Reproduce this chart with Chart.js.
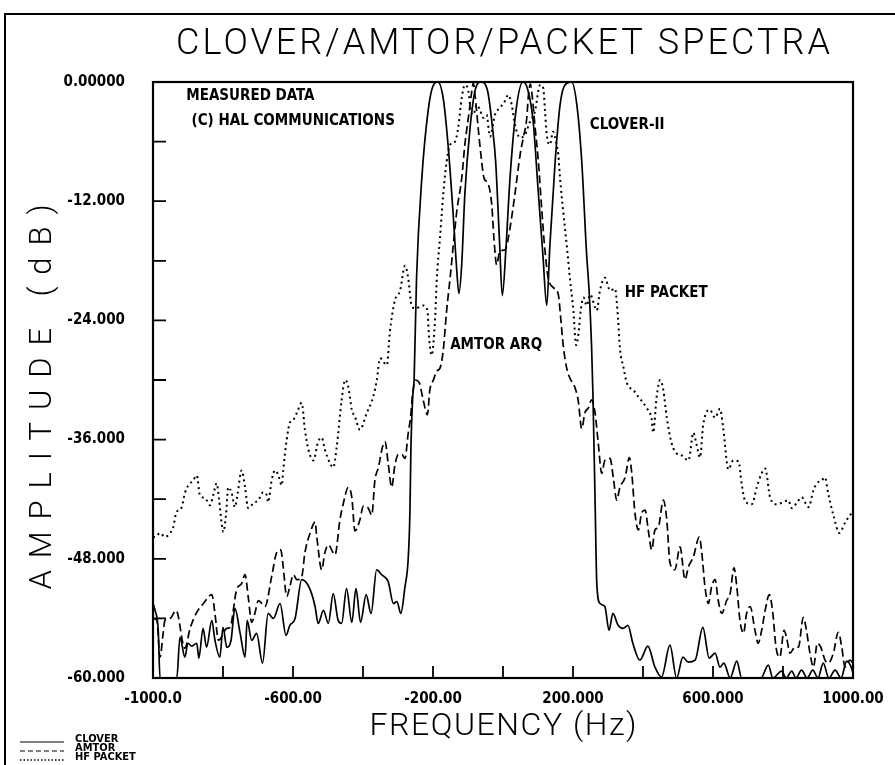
<!DOCTYPE html>
<html><head><meta charset="utf-8">
<script src="https://cdn.jsdelivr.net/npm/chart.js@4.4.1/dist/chart.umd.min.js"></script>
<style>html,body{margin:0;padding:0;background:#fff;}canvas{display:block;}</style>
</head><body>
<canvas id="c" width="895" height="765"></canvas>
<script>
// ---- data (frequency Hz, amplitude dB) ----
const cloverData = [
[-1000,-52.5],[-994,-53.2],[-985,-55.2],[-980,-60],[-932,-60],[-923,-55.9],[-909,-57.9],[-900,-56.5],[-889,-56.8],[-875,-56.5],[-869,-58],[-857,-55],[-847,-56.9],[-832,-54.2],[-823,-56.2],[-809,-57.9],[-800,-54.9],[-789,-56.9],[-777,-56.2],[-766,-53],[-751,-55.5],[-737,-57.9],[-731,-54.2],[-718,-56.2],[-704,-55.5],[-687,-58.5],[-671,-53.5],[-656,-54],[-637,-52.5],[-620,-55.7],[-609,-54.7],[-594,-54],[-575,-50.1],[-551,-51.1],[-537,-52.8],[-528,-54.5],[-513,-53.2],[-499,-54.5],[-485,-51.5],[-471,-54.2],[-461,-54.5],[-447,-51],[-432,-54.4],[-420,-51],[-407,-54.4],[-391,-51.6],[-377,-53.5],[-361,-49.1],[-347,-49.6],[-328,-50.3],[-313,-52.5],[-303,-52.3],[-292,-53.5],[-280,-50.8],[-271,-48.1],[-266,-43.4],[-263,-36.7],[-258,-31.7],[-254,-30],[-247,-19.7],[-232,-9.7],[-214,-2.9],[-200,-0.4],[-186,0],[-171,-1.6],[-157,-6.3],[-143,-13],[-132,-19],[-126,-21.3],[-118,-18.4],[-109,-11.3],[-94,-4.6],[-80,-0.9],[-63,0],[-44,-0.9],[-30,-4.6],[-21,-8],[-10,-16],[-2,-21.5],[9,-16.4],[20,-9.7],[37,-2.9],[57,0],[71,-0.8],[86,-3.9],[100,-10.7],[114,-17.4],[125,-22.5],[134,-16.4],[149,-8],[163,-2.3],[177,-0.3],[196,0],[211,-2.3],[225,-8],[239,-17.4],[246,-21],[253,-26.5],[257,-31.5],[263,-42],[268,-50.5],[277,-52.5],[291,-52.8],[303,-55.2],[314,-53.5],[329,-54.7],[343,-55],[357,-54.7],[371,-56.5],[391,-58.2],[414,-56.8],[434,-58.9],[453,-59.9],[477,-56.7],[496,-60],[514,-57.9],[529,-58.4],[549,-58.2],[571,-54.9],[589,-58],[606,-57.5],[620,-58.9],[631,-58.5],[649,-60],[668,-58.3],[682,-60],[737,-60],[758,-58.7],[771,-60],[796,-59.3],[809,-60],[825,-59.3],[837,-60],[853,-59.2],[869,-60],[885,-59.2],[900,-60],[915,-58.5],[931,-60],[949,-59.2],[966,-60],[982,-58.3],[996,-59],[1000,-59.5]
];
const amtorData = [
[-1000,-54],[-989,-54.2],[-980,-57.9],[-971,-55.5],[-966,-54.2],[-951,-54],[-934,-53.2],[-909,-57],[-894,-55],[-875,-53.4],[-856,-52.5],[-832,-51.6],[-823,-53.5],[-813,-56.2],[-789,-55],[-780,-54.9],[-761,-51.1],[-747,-50.5],[-737,-49.6],[-728,-51.8],[-718,-54.4],[-709,-53.5],[-699,-52.2],[-680,-52.8],[-661,-49.8],[-647,-47.4],[-635,-47.1],[-628,-48.8],[-618,-51.8],[-609,-50.8],[-599,-49.6],[-589,-50.1],[-575,-49.8],[-566,-47.4],[-551,-45.4],[-537,-44.3],[-532,-45.8],[-518,-49.1],[-509,-47.4],[-499,-46.6],[-480,-47.6],[-466,-44.1],[-456,-42.4],[-442,-40.8],[-432,-41.8],[-423,-45.2],[-409,-44.1],[-399,-42.7],[-385,-42.9],[-375,-43.6],[-366,-40.1],[-356,-38.8],[-344,-36.7],[-337,-36.2],[-328,-38.4],[-318,-40.8],[-309,-38.6],[-299,-37.5],[-289,-37.5],[-280,-37.9],[-271,-35.4],[-264,-33.7],[-258,-31.3],[-251,-30],[-239,-30.3],[-228,-32],[-216,-33.5],[-209,-31],[-199,-30],[-189,-29.1],[-180,-28.8],[-171,-27.1],[-161,-23],[-151,-19.7],[-142,-16.4],[-132,-13],[-118,-9.7],[-109,-6.3],[-99,-3.6],[-89,-0.9],[-85,-0.1],[-80,-1.3],[-71,-4.6],[-61,-8],[-54,-9.7],[-43,-10.2],[-32,-12.4],[-26,-15.7],[-18,-18.4],[-9,-17],[6,-16.9],[20,-14.7],[34,-11.3],[49,-7.3],[58,-5.6],[68,-3.6],[72,-1.6],[78,-0.2],[84,-1.6],[91,-4.3],[101,-8],[111,-13],[120,-17],[129,-19.7],[144,-20.7],[158,-21.4],[165,-23.8],[172,-26.5],[182,-28.8],[191,-29.8],[206,-30.8],[215,-32.1],[225,-34.9],[234,-33.3],[244,-32.8],[253,-32],[263,-33.3],[272,-36.3],[282,-39.4],[291,-38.1],[306,-37.9],[315,-39.8],[325,-42.1],[334,-40.8],[349,-39.8],[361,-37.8],[368,-39.4],[377,-43.4],[387,-45.1],[396,-43.4],[406,-43.1],[415,-45.1],[425,-47.1],[434,-45.1],[444,-44.8],[458,-42.1],[468,-44.1],[477,-48.4],[491,-49.1],[506,-46.8],[520,-50.1],[530,-48.8],[544,-47.8],[561,-45.8],[568,-47.4],[577,-50.8],[587,-52.5],[596,-50.8],[606,-50.1],[615,-52.2],[625,-53.5],[639,-52.2],[649,-51.5],[660,-48.9],[668,-50.8],[677,-54.2],[687,-55.5],[696,-53.5],[706,-52.8],[720,-55.2],[729,-56.5],[739,-55.2],[749,-53.2],[761,-51.6],[771,-53.5],[780,-56.9],[791,-57.9],[803,-55.2],[810,-55.9],[820,-57.5],[834,-56.9],[844,-56.9],[858,-53.9],[867,-55.2],[877,-57.5],[887,-58.9],[898,-56.5],[908,-56.9],[920,-58.2],[929,-58.5],[944,-57.5],[958,-55.4],[968,-56.9],[977,-58.9],[991,-58.2],[1000,-58.5]
];
const packetData = [
[-1000,-45.8],[-994,-45.8],[-980,-45.4],[-966,-45.8],[-951,-45.4],[-942,-44.8],[-934,-43.4],[-918,-42.8],[-909,-41.4],[-899,-40.6],[-885,-40.1],[-875,-39.6],[-866,-41.6],[-851,-41.9],[-837,-42.6],[-828,-41.6],[-818,-40.4],[-811,-42.1],[-804,-44.4],[-799,-45.3],[-791,-43.4],[-785,-40.8],[-775,-41.4],[-766,-42.8],[-758,-41.4],[-747,-39.1],[-737,-40.8],[-728,-42.9],[-713,-42.4],[-699,-42.1],[-685,-41.3],[-675,-41.6],[-671,-42.3],[-661,-40.1],[-651,-39.1],[-642,-39.6],[-632,-40.6],[-628,-39.1],[-618,-36],[-609,-34.3],[-599,-34],[-589,-33.3],[-575,-32.3],[-566,-35],[-556,-37],[-542,-38.1],[-528,-36.2],[-518,-35.8],[-509,-37],[-494,-38.4],[-485,-38.8],[-475,-36.7],[-461,-32],[-451,-30],[-442,-30.7],[-432,-33],[-423,-33.7],[-409,-35],[-389,-33.3],[-371,-31.7],[-361,-30.1],[-351,-27.8],[-332,-28.5],[-323,-25.1],[-309,-22],[-294,-21],[-280,-18.5],[-271,-19.7],[-261,-22.5],[-251,-22.8],[-228,-22.5],[-216,-23],[-211,-25.8],[-204,-27.5],[-194,-23.8],[-189,-19.7],[-180,-15.7],[-171,-11.4],[-161,-8],[-151,-6.3],[-137,-6],[-128,-4.6],[-118,-1.6],[-109,-0.3],[-99,-0.9],[-92,-2.9],[-85,-3.3],[-75,-2.3],[-66,-2.8],[-56,-3.6],[-47,-3.3],[-37,-5.5],[-23,-3.3],[-9,-2.6],[6,-1.9],[15,-1.3],[25,-2.3],[34,-4.3],[49,-5.6],[63,-5.3],[77,-4],[91,-3],[106,-0.3],[115,-0.6],[120,-2.9],[125,-5.3],[134,-6.3],[143,-5],[153,-6.3],[158,-7.3],[163,-9.7],[172,-13],[182,-16.4],[191,-19.7],[201,-23],[209,-26.5],[215,-25.5],[222,-23],[230,-21.7],[239,-22.5],[249,-21.4],[268,-23],[277,-21],[291,-19.7],[306,-21],[320,-20.8],[329,-24],[334,-26.8],[344,-28.7],[353,-30.2],[363,-30.8],[372,-31],[387,-31.7],[410,-32.8],[425,-34],[429,-35.3],[439,-31.7],[449,-30],[458,-31],[468,-33.8],[482,-36.4],[496,-37.4],[511,-37.6],[530,-38.1],[544,-35.3],[553,-36.5],[563,-37.8],[572,-34.5],[591,-33],[606,-33.8],[620,-32.9],[629,-34.8],[644,-39],[658,-38.1],[673,-38.2],[682,-40.5],[692,-42.2],[711,-42.5],[725,-40.8],[739,-39.4],[749,-38.9],[763,-41.8],[782,-42.5],[801,-42.3],[815,-42.1],[825,-42.9],[839,-42.4],[853,-41.8],[873,-42.8],[887,-41.1],[897,-40.4],[911,-40.1],[920,-39.8],[929,-41.4],[944,-43.6],[961,-45.4],[977,-44.4],[996,-43.4],[1000,-43.3]
];
const seriesNames = ["CLOVER", "AMTOR", "HF PACKET"];
const xTickValues = [-1000, -600, -200, 200, 600, 1000];
const xTickLabels = ["-1000.0", "-600.00", "-200.00", "200.000", "600.000", "1000.00"];
const yTickValues = [0, -12, -24, -36, -48, -60];
const yTickLabels = ["0.00000", "-12.000", "-24.000", "-36.000", "-48.000", "-60.000"];
const chartTitle = "CLOVER/AMTOR/PACKET SPECTRA";
const xTitle = "FREQUENCY (Hz)";
const yTitle = "AMPLITUDE (dB)";
const notes = [
  {text: "MEASURED DATA", hz: -905, db: -1.45},
  {text: "(C) HAL COMMUNICATIONS", hz: -890, db: -3.95},
  {text: "CLOVER-II", hz: 248, db: -4.35},
  {text: "HF PACKET", hz: 348, db: -21.25},
  {text: "AMTOR ARQ", hz: -151, db: -26.5}
];

const toXY = arr => arr.map(p => ({x: p[0], y: p[1]}));
const LABEL_FONT = "'DejaVu Sans Condensed', 'DejaVu Sans', sans-serif";
const THIN_FONT = "Roboto, 'Open Sans', sans-serif";

const styles = [
  {dash: [], width: 1.7},
  {dash: [8, 4], width: 1.7},
  {dash: [2, 3.5], width: 2}
];

function drawSpaced(ctx, text, cx, cy, targetW, font) {
  ctx.font = font;
  ctx.letterSpacing = '0px';
  const w = ctx.measureText(text).width;
  const n = Array.from(text).length;
  const ls = Math.max(0, (targetW - w) / (n - 1));
  ctx.letterSpacing = ls + 'px';
  ctx.textAlign = 'left';
  ctx.textBaseline = 'middle';
  ctx.fillText(text, cx - Math.max(targetW, w) / 2, cy);
  ctx.letterSpacing = '0px';
}

const decor = {
  id: 'decor',
  afterDraw(chart) {
    const ctx = chart.ctx, a = chart.chartArea;
    const xs = chart.scales.x, ys = chart.scales.y;
    ctx.save();
    ctx.strokeStyle = '#000';
    ctx.fillStyle = '#000';
    ctx.lineWidth = 2.2;
    ctx.strokeRect(a.left, a.top, a.right - a.left, a.bottom - a.top);
    ctx.lineWidth = 1.8;
    ctx.beginPath();
    xs.ticks.forEach(t => {
      const px = xs.getPixelForValue(t.value);
      ctx.moveTo(px, a.bottom); ctx.lineTo(px, a.bottom - 12);
    });
    ys.ticks.forEach(t => {
      const py = ys.getPixelForValue(t.value);
      ctx.moveTo(a.left, py); ctx.lineTo(a.left + 13, py);
    });
    ctx.stroke();
    ctx.lineWidth = 2;
    ctx.beginPath();
    ctx.moveTo(5, 765); ctx.lineTo(5, 14); ctx.lineTo(895, 14);
    ctx.stroke();
    drawSpaced(ctx, chartTitle, (a.left + a.right) / 2, 45, 654, "300 36px " + THIN_FONT);
    drawSpaced(ctx, xTitle, (a.left + a.right) / 2, 727, 267, "300 32px " + THIN_FONT);
    ctx.save();
    ctx.translate(43, 397);
    ctx.rotate(-Math.PI / 2);
    drawSpaced(ctx, yTitle, 0, 0, 385, "300 31px " + THIN_FONT);
    ctx.restore();
    ctx.font = "bold 15px " + LABEL_FONT;
    ctx.textAlign = 'left';
    ctx.textBaseline = 'middle';
    notes.forEach(n => {
      ctx.fillText(n.text, xs.getPixelForValue(n.hz), ys.getPixelForValue(n.db));
    });
    ctx.font = "bold 11px " + LABEL_FONT;
    seriesNames.forEach((name, i) => {
      const ly = 742 + i * 9;
      ctx.save();
      ctx.lineWidth = i === 2 ? 1.4 : 1.2;
      ctx.setLineDash(i === 0 ? [] : (i === 1 ? [5, 3] : [1.5, 2]));
      ctx.beginPath(); ctx.moveTo(20, ly); ctx.lineTo(64, ly); ctx.stroke();
      ctx.restore();
      ctx.textBaseline = 'alphabetic';
      ctx.fillText(name, 75, ly);
    });
    ctx.restore();
  }
};

const allData = [cloverData, amtorData, packetData];
new Chart(document.getElementById('c'), {
  type: 'line',
  data: {
    datasets: allData.map((d, i) => ({
      label: seriesNames[i],
      data: toXY(d),
      borderColor: '#000',
      borderWidth: styles[i].width,
      borderDash: styles[i].dash,
      pointRadius: 0,
      fill: false,
      cubicInterpolationMode: 'monotone'
    }))
  },
  options: {
    responsive: false,
    animation: false,
    devicePixelRatio: 1,
    layout: {padding: {top: 82, right: 42, left: 0, bottom: 0}},
    plugins: {legend: {display: false}, title: {display: false}, tooltip: {enabled: false}},
    scales: {
      x: {
        type: 'linear', min: -1000, max: 1000,
        grid: {display: false}, border: {display: false},
        ticks: {
          stepSize: 200, autoSkip: false, maxRotation: 0, padding: 4, color: '#000',
          font: {family: LABEL_FONT, size: 15, weight: 'bold'},
          callback: v => { const i = xTickValues.indexOf(v); return i >= 0 ? xTickLabels[i] : ''; }
        },
        afterFit: s => { s.height = 87; }
      },
      y: {
        type: 'linear', min: -60, max: 0,
        grid: {display: false}, border: {display: false},
        ticks: {
          stepSize: 6, autoSkip: false, padding: 20, color: '#000',
          font: {family: LABEL_FONT, size: 15, weight: 'bold'},
          callback: v => { const i = yTickValues.indexOf(v); return i >= 0 ? yTickLabels[i] : ''; }
        },
        afterFit: s => { s.width = 153; }
      }
    }
  },
  plugins: [decor]
});
</script>
</body></html>
